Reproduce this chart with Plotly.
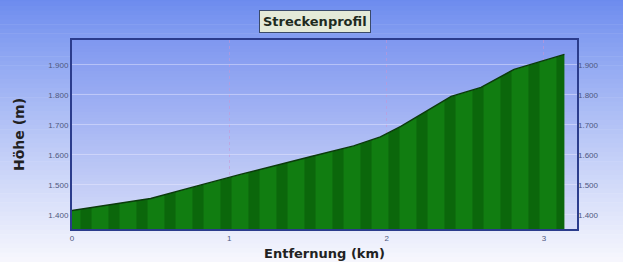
import plotly.graph_objects as go

# ---- data ----
dist_km = [0.0, 0.18, 0.50, 0.82, 1.07, 1.52, 1.79, 1.96, 2.09, 2.41, 2.60, 2.81, 3.13]
elev_m = [1415, 1430, 1455, 1500, 1535, 1595, 1630, 1660, 1695, 1795, 1825, 1885, 1935]
x_ticks = [0, 1, 2, 3]
x_labels = ["0", "1", "2", "3"]
y_ticks = [1400, 1500, 1600, 1700, 1800, 1900]
y_labels = ["1.400", "1.500", "1.600", "1.700", "1.800", "1.900"]

title_text = "Streckenprofil"
x_title = "Entfernung (km)"
y_title = "Höhe (m)"


def lerp(c1, c2, t):
    return "rgb(%d,%d,%d)" % tuple(round(a + (b - a) * t) for a, b in zip(c1, c2))


shapes = []
# paper gradient (blue top -> nearly white bottom)
n = 60
top_c, bot_c = (104, 136, 238), (248, 248, 253)
y0p, y1p = -0.2, 1.25
for i in range(n):
    a = y1p - (y1p - y0p) * i / n
    b = y1p - (y1p - y0p) * (i + 1) / n
    t = i / (n - 1)
    shapes.append(dict(type="rect", xref="paper", yref="paper", x0=-0.2, x1=1.2,
                       y0=b, y1=a + 0.003, fillcolor=lerp(top_c, bot_c, t ** 0.9),
                       line=dict(width=0), layer="below"))
# plot-area gradient
ptop, pbot = (128, 152, 240), (214, 220, 248)
for i in range(n):
    a = 1 - i / n
    b = 1 - (i + 1) / n
    t = i / (n - 1)
    shapes.append(dict(type="rect", xref="paper", yref="paper", x0=0, x1=1,
                       y0=b, y1=a + 0.003, fillcolor=lerp(ptop, pbot, t),
                       line=dict(width=0), layer="below"))

fig = go.Figure()
fig.add_trace(go.Scatter(
    x=dist_km, y=elev_m, mode="lines", fill="tozeroy",
    line=dict(color="#0b3b0b", width=1.5),
    fillcolor="#148a14",
    fillpattern=dict(shape="|", fgcolor="#065206", bgcolor="#117d11",
                     size=28, solidity=0.4),
    hoverinfo="skip", showlegend=False))
fig.add_trace(go.Scatter(x=dist_km, y=elev_m, yaxis="y2", mode="lines",
                         line=dict(width=0), opacity=0, showlegend=False,
                         hoverinfo="skip"))

tickfont = dict(family="Liberation Sans, Arial, sans-serif", size=8, color="#4e5880")
axis_line = "#2b3c8c"
bold_font = "DejaVu Sans, Verdana, sans-serif"

fig.update_layout(
    width=623, height=262,
    margin=dict(l=72, r=46, t=40, b=33),
    paper_bgcolor="rgba(0,0,0,0)", plot_bgcolor="rgba(0,0,0,0)",
    shapes=shapes,
    xaxis=dict(range=[0, 3.21], tickvals=x_ticks, ticktext=x_labels,
               tickfont=tickfont, showgrid=True, gridcolor="rgba(200,150,210,0.55)",
               griddash="dot", gridwidth=1, zeroline=False, automargin=False,
               showline=True, linecolor=axis_line, linewidth=2, mirror=True,
               ticks="", title=dict(text="<b>" + x_title + "</b>", standoff=7,
                                    font=dict(family=bold_font, size=13,
                                              color="#222222"))),
    yaxis=dict(range=[1353, 1983], tickvals=y_ticks, ticktext=y_labels,
               tickfont=tickfont, showgrid=True, gridcolor="rgba(235,235,255,0.45)",
               zeroline=False, showline=True, linecolor=axis_line, linewidth=2,
               mirror=True, ticks="", automargin=False,
               title=dict(text="<b>" + y_title + "</b>", standoff=20,
                          font=dict(family=bold_font, size=14, color="#222222"))),
    yaxis2=dict(range=[1353, 1983], tickvals=y_ticks, ticktext=y_labels,
                tickfont=tickfont, overlaying="y", side="right", showgrid=False,
                zeroline=False, ticks="", automargin=False),
    annotations=[dict(text="<b>" + title_text + "</b>", xref="paper", yref="paper",
                      x=0.482, y=1.0, yanchor="middle", yshift=19, showarrow=False,
                      font=dict(family=bold_font, size=13, color="#1e2a1e"),
                      bgcolor="#e4ead8", bordercolor="#3a4a6a", borderwidth=1,
                      borderpad=3)],
)

fig.write_html("out.html",
               config={"displayModeBar": False},
               post_script="document.body.style.margin='0';"
                           "document.body.style.overflow='hidden';")
